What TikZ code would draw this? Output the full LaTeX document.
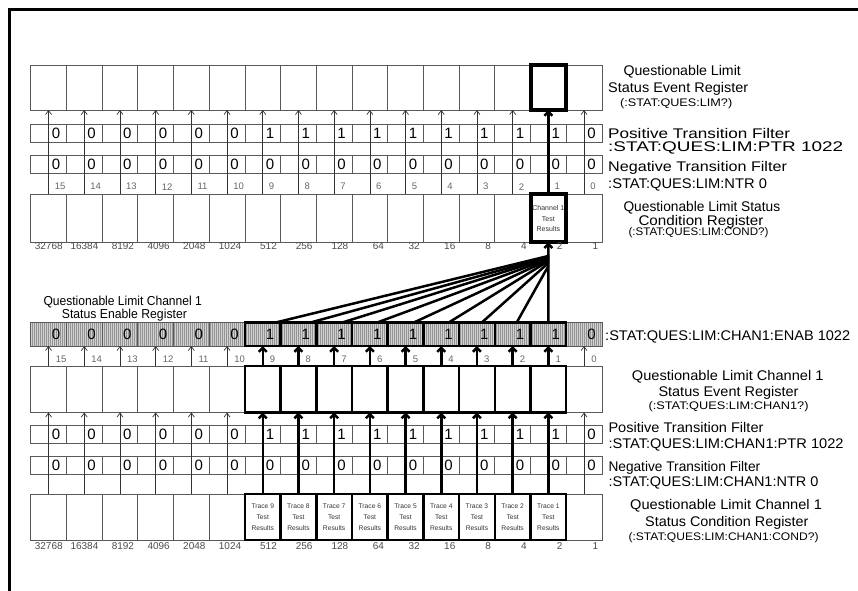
\documentclass[tikz,border=0pt]{standalone}
\usepackage{fontspec}
\setmainfont{Liberation Sans}
\usepackage{graphicx}
\usetikzlibrary{arrows.meta,patterns,calc}
\newcommand\fitw[2]{\resizebox{#1pt}{\height}{#2}}
\pgfdeclarepatternformonly{finevlines}{\pgfpoint{-0.1pt}{-0.1pt}}{\pgfpoint{2.1pt}{2.1pt}}{\pgfpoint{2pt}{2pt}}{%
  \pgfpathrectangle{\pgfpoint{0pt}{0pt}}{\pgfpoint{0.9pt}{2pt}}\pgfusepath{fill}}
\begin{document}
\begin{tikzpicture}[x=1pt,y=-1pt,
  cellbox/.style={draw=black!65, line width=0.7pt, inner sep=0pt, outer sep=0pt, minimum width=35.7pt},
  thickbox/.style={draw=black, line width=2.5pt, inner sep=0pt, outer sep=0pt, minimum width=35.7pt},
  topthickbox/.style={thickbox, line width=4pt},
  enfill/.style={preaction={fill=black!18}, preaction={pattern=finevlines, pattern color=black!42}},
  digitlbl/.style={anchor=west, inner sep=0pt, font=\fontsize{15}{15}\selectfont},
  bitnum/.style={anchor=west, inner sep=0pt, text=black!60, font=\fontsize{9.5}{9.5}\selectfont},
  wtlbl/.style={anchor=east, inner sep=0pt, text=black!70, font=\fontsize{10}{10}\selectfont},
  lbl/.style={anchor=base west, inner sep=0pt, font=\fontsize{14}{16}\selectfont},
  sublbl/.style={anchor=base west, inner sep=0pt, font=\fontsize{11}{13}\selectfont},
  cellnote/.style={align=center, inner sep=0pt, text=black!80, font=\fontsize{7}{10.5}\selectfont},
  thinarrow/.style={draw=black!80, line width=0.7pt, -{Straight Barb[length=4pt,width=6pt]}},
  thickarrow/.style={draw=black, line width=2.5pt, -{Straight Barb[length=4pt,width=8pt]}},
  fanline/.style={draw=black, line width=2.5pt, line cap=round},
]
\useasboundingbox (0,0) rectangle (858,590);
% frame
\draw[line width=3pt] (9.5,600) -- (9.5,9.5) -- (870,9.5);

% ---- loop A: thin boxes
\foreach \b in {0,...,15}{
  \pgfmathsetmacro\cx{30.7+(15.5-\b)*35.7}
  \pgfmathtruncatemacro\isthick{and(\b>0,\b<10)}
  \ifnum\b=1\else
    \node[cellbox, minimum height=45pt] (tev-\b) at (\cx,87.5) {};
    \node[cellbox, minimum height=48pt] (tcond-\b) at (\cx,218.3) {};
  \fi
  \node[cellbox, minimum height=18pt] (tptr-\b) at (\cx,133.3) {};
  \node[cellbox, minimum height=17.6pt] (tntr-\b) at (\cx,164.5) {};
  \ifnum\isthick=0
    \node[cellbox, enfill, minimum height=23.3pt] (be-\b) at (\cx,334.35) {};
    \node[cellbox, minimum height=46.5pt] (bev-\b) at (\cx,389.25) {};
    \node[cellbox, minimum height=46pt] (bcond-\b) at (\cx,517) {};
  \fi
  \node[cellbox, minimum height=18.3pt] (bptr-\b) at (\cx,434.15) {};
  \node[cellbox, minimum height=17.6pt] (bntr-\b) at (\cx,465.5) {};
}

% ---- loop B: thick boxes
\node[topthickbox, minimum height=45pt] (tev-1) at (548.35,87.5) {};
\node[topthickbox, fill=white, minimum height=48pt] (tcond-1) at (548.35,218.3) {};
\node[cellnote] (tcondt-1) at (548.35,218.8) {Channel 1\\Test\\Results};
\foreach \b in {1,...,9}{
  \pgfmathsetmacro\cx{30.7+(15.5-\b)*35.7}
  \node[thickbox, enfill, minimum height=23.3pt] (be-\b) at (\cx,334.35) {};
  \node[thickbox, minimum height=46.5pt] (bev-\b) at (\cx,389.25) {};
  \node[thickbox, minimum height=46pt] (bcond-\b) at (\cx,517) {};
  \node[cellnote, font=\fontsize{6.7}{10.7}\selectfont] (bcondt-\b) at (\cx,517.3) {Trace \b\\Test\\Results};
}

% ---- loop C: digits, numbers, arrows
\foreach \b/\wt/\p in {15/32768/0,14/16384/0,13/8192/0,12/4096/0,11/2048/0,10/1024/0,9/512/1,8/256/1,7/128/1,6/64/1,5/32/1,4/16/1,3/8/1,2/4/1,1/2/1,0/1/0}{
  \pgfmathsetmacro\cx{30.7+(15.5-\b)*35.7}
  \pgfmathtruncatemacro\isthick{and(\b>0,\b<10)}
  % top register
  \node[digitlbl] (tptrv-\b) at (\cx+3,133.3) {\p};
  \node[digitlbl] (tntrv-\b) at (\cx+3,164.5) {0};
  \node[bitnum] (tbit-\b) at (\cx+6,186.7) {\b};
  \node[wtlbl] (twt-\b) at (\cx+14.3,246.5) {\wt};
  \ifnum\b=1
    \draw[thickarrow] (tcond-\b.north) -- (tev-\b.south);
  \else
    \draw[thinarrow] (tcond-\b.north) -- (tev-\b.south);
  \fi
  % bottom register
  \node[digitlbl] (benv-\b) at (\cx+3,334.35) {\p};
  \node[digitlbl] (bptrv-\b) at (\cx+3,434.15) {\p};
  \node[digitlbl] (bntrv-\b) at (\cx+3,465.5) {0};
  \node[bitnum] (bbit-\b) at (\cx+7,359) {\b};
  \node[wtlbl] (bwt-\b) at (\cx+14.3,545.7) {\wt};
  \ifnum\isthick=1
    \draw[thickarrow] (bcond-\b.north) -- (bev-\b.south);
    \draw[thickarrow] (bev-\b.north) -- (be-\b.south);
  \else
    \draw[thinarrow] (bcond-\b.north) -- (bev-\b.south);
    \draw[thinarrow] (bev-\b.north) -- (be-\b.south);
  \fi
}

% ---- fan from enable register to channel 1 condition bit
\foreach \b/\f/\g in {9/0.84/0.830, 8/0.82/0.817, 7/0.71/0.805, 6/0.69/0.792, 5/0.72/0.780, 4/0.70/0.767, 3/0.63/0.743, 2/0.61/0.705}{
  \coordinate (cv-\b) at ($(be-1.north)!\g!(tcond-1.south)$);
  \draw[fanline] ($(be-\b.north west)!\f!(be-\b.north east)$) -- (cv-\b);
}
\draw[thickarrow] (be-1.north) -- (tcond-1.south);

% ---- labels, top
\node[lbl] (l1) at (623.3,75) {\fitw{117.4}{Questionable Limit}};
\node[lbl] (l2) at (608,92) {\fitw{140}{Status Event Register}};
\node[sublbl] (l3) at (620,106) {\fitw{112}{(:STAT:QUES:LIM?)}};
\node[lbl] (l4) at (608,138) {\fitw{182}{Positive Transition Filter}};
\node[lbl] (l5) at (608,151) {\fitw{235}{:STAT:QUES:LIM:PTR 1022}};
\node[lbl] (l6) at (608,171.7) {\fitw{178.7}{Negative Transition Filter}};
\node[lbl] (l7) at (608,188.3) {\fitw{158.7}{:STAT:QUES:LIM:NTR 0}};
\node[lbl] (l8) at (623.3,211.7) {\fitw{156.7}{Questionable Limit Status}};
\node[lbl] (l9) at (638.3,225) {\fitw{125}{Condition Register}};
\node[sublbl] (l10) at (628.3,235) {\fitw{140}{(:STAT:QUES:LIM:COND?)}};

% ---- labels, bottom
\node[lbl, font=\fontsize{13}{15}\selectfont] (b1) at (43.3,305.4) {\fitw{158.4}{Questionable Limit Channel 1}};
\node[lbl, font=\fontsize{13}{15}\selectfont] (b2) at (61.7,318.7) {\fitw{125}{Status Enable Register}};
\node[lbl] (b3) at (605,340) {\fitw{245}{:STAT:QUES:LIM:CHAN1:ENAB 1022}};
\node[lbl] (b4) at (631.7,380) {\fitw{191.6}{Questionable Limit Channel 1}};
\node[lbl] (b5) at (658.3,396.7) {\fitw{140}{Status Event Register}};
\node[sublbl] (b6) at (648.3,409.7) {\fitw{160}{(:STAT:QUES:LIM:CHAN1?)}};
\node[lbl] (b7) at (608.3,432.7) {\fitw{155}{Positive Transition Filter}};
\node[lbl] (b8) at (608.3,448.3) {\fitw{235}{:STAT:QUES:LIM:CHAN1:PTR 1022}};
\node[lbl] (b9) at (608.3,471) {\fitw{151.7}{Negative Transition Filter}};
\node[lbl] (b10) at (608.3,486.7) {\fitw{210}{:STAT:QUES:LIM:CHAN1:NTR 0}};
\node[lbl] (b11) at (630,509.3) {\fitw{191.7}{Questionable Limit Channel 1}};
\node[lbl] (b12) at (645,526) {\fitw{163.3}{Status Condition Register}};
\node[sublbl] (b13) at (628.3,540.7) {\fitw{190}{(:STAT:QUES:LIM:CHAN1:COND?)}};
\end{tikzpicture}
\end{document}
